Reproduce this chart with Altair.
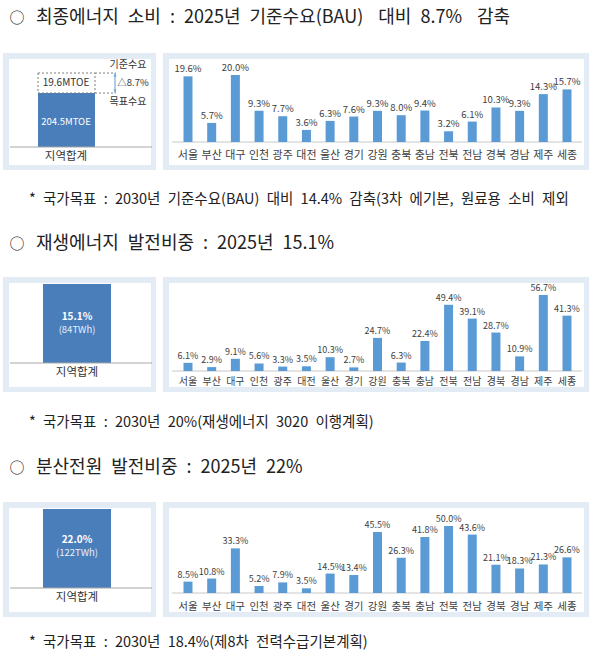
import altair as alt
import pandas as pd

FONT = "Noto Sans CJK KR"
BLUE = "#5b9bd5"
DARK_BLUE = "#4a7ebb"
FRAME = "#e3ebf5"
TXT = "#404040"

regions = ["서울", "부산", "대구", "인천", "광주", "대전", "울산", "경기", "강원",
           "충북", "충남", "전북", "전남", "경북", "경남", "제주", "세종"]
energy_cut = [19.6, 5.7, 20.0, 9.3, 7.7, 3.6, 6.3, 7.6, 9.3, 8.0, 9.4, 3.2, 6.1, 10.3, 9.3, 14.3, 15.7]
renew_share = [6.1, 2.9, 9.1, 5.6, 3.3, 3.5, 10.3, 2.7, 24.7, 6.3, 22.4, 49.4, 39.1, 28.7, 10.9, 56.7, 41.3]
dist_share = [8.5, 10.8, 33.3, 5.2, 7.9, 3.5, 14.5, 13.4, 45.5, 26.3, 41.8, 50.0, 43.6, 21.1, 18.3, 21.3, 26.6]

SP = "\u2002"
WSP = "\u2002\u2004"
headers = ["최종에너지" + SP + "소비" + SP + ":" + SP + "2025년" + SP + "기준수요(BAU)" + WSP
           + "대비" + SP + "8.7%" + WSP + "감축",
           SP.join(["재생에너지", "발전비중", ":", "2025년", "15.1%"]),
           SP.join(["분산전원", "발전비중", ":", "2025년", "22%"])]
notes = [SP.join(["*", "국가목표", ":", "2030년", "기준수요(BAU)", "대비", "14.4%", "감축(3차", "에기본,", "원료용", "소비", "제외"]),
         SP.join(["*", "국가목표", ":", "2030년", "20%(재생에너지", "3020", "이행계획)"]),
         SP.join(["*", "국가목표", ":", "2030년", "18.4%(제8차", "전력수급기본계획)"])]

total_label = "지역합계"
target_mtoe = 204.5
cut_mtoe = 19.6
bau_mtoe = round(target_mtoe + cut_mtoe, 1)
renew_total = ["15.1%", "(84TWh)"]
dist_total = ["22.0%", "(122TWh)"]
renew_total_val = 15.1
dist_total_val = 22.0

one = pd.DataFrame({"a": [0]})


def box(x0, x1, y0, y1, color, **kw):
    return alt.Chart(one).mark_rect(color=color, **kw).encode(
        x=alt.value(x0), x2=alt.value(x1), y=alt.value(y0), y2=alt.value(y1))


def hline(x0, x1, y, color="#bfbfbf", **kw):
    return alt.Chart(one).mark_rule(color=color, **kw).encode(
        x=alt.value(x0), x2=alt.value(x1), y=alt.value(y))


def label(txt, x, y, size, color=TXT, align="left", weight="normal"):
    return alt.Chart(pd.DataFrame({"t": [txt]})).mark_text(
        font=FONT, fontSize=size, color=color, align=align, baseline="middle",
        fontWeight=weight).encode(x=alt.value(x), y=alt.value(y), text="t:N")


def frame(x0, x1, y0, y1):
    return [box(x0, x1, y0, y1, FRAME), box(x0 + 6, x1 - 5, y0 + 6, y1 - 5, "white")]


def bar_panel(values, y_base, y_top, vmax, lab_size, reg_y, reg_size):
    df = pd.DataFrame({"region": regions, "value": values})
    xs = alt.X("region:N", sort=regions, axis=None,
               scale=alt.Scale(domain=regions, range=[176.15, 578.85],
                               paddingInner=0.62, paddingOuter=0.31))
    ys = alt.Y("value:Q", axis=None,
               scale=alt.Scale(domain=[0, vmax], range=[y_base, y_top]))
    base = alt.Chart(df)
    bars = base.mark_bar(color=BLUE).encode(x=xs, y=ys)
    vals = base.transform_calculate(
        lab="format(datum.value, '.1f') + '%'"
    ).mark_text(font=FONT, fontSize=lab_size, color=TXT, baseline="bottom", dy=-2
                ).encode(x=xs, y=ys, text="lab:N")
    regs = base.mark_text(font=FONT, fontSize=reg_size, color=TXT, baseline="middle").encode(
        x=xs, y=alt.value(reg_y), text="region:N")
    axis_line = hline(172, 582, y_base, color="#c8c8c8")
    return [axis_line, bars, vals, regs]


def total_bar(value, y_base, y_top, texts, y_txt):
    df = pd.DataFrame({"cat": [total_label], "value": [value]})
    xs = alt.X("cat:N", axis=None,
               scale=alt.Scale(domain=[total_label], range=[43, 111], paddingInner=0, paddingOuter=0))
    ys = alt.Y("value:Q", axis=None, scale=alt.Scale(domain=[0, value], range=[y_base, y_top]))
    bar = alt.Chart(df).mark_bar(color=DARK_BLUE).encode(x=xs, y=ys)
    return [bar,
            hline(10, 152, y_base, color="#a6a6a6"),
            label(texts[0], 77, y_txt, 10, color="white", align="center", weight="bold"),
            label(texts[1], 77, y_txt + 13, 9.5, color="#e8eef8", align="center"),
            label(total_label, 77, y_base + 10, 11.5, color="#333", align="center")]


layers = []

# ---------- headers & notes ----------
for hy, txt in zip([18, 244, 468], headers):
    layers.append(label("○", 17, hy, 15, color="#222", align="center"))
    layers.append(label(txt, 36, hy, 18, color="#222"))
for ny, txt in zip([200, 423, 643], notes):
    layers.append(label(txt, 29, ny, 14.5, color="#222"))

# ---------- section 1 ----------
layers += frame(3, 156, 53, 170)
layers += frame(163, 589, 53, 170)
df1 = pd.DataFrame({"cat": [total_label], "target": [target_mtoe], "bau": [bau_mtoe], "zero": [0.0]})
x1 = alt.X("cat:N", axis=None,
           scale=alt.Scale(domain=[total_label], range=[38, 95], paddingInner=0, paddingOuter=0))
y1s = alt.Scale(domain=[0, target_mtoe, bau_mtoe], range=[147, 93, 73])
layers.append(alt.Chart(df1).mark_bar(color=DARK_BLUE).encode(
    x=x1, y=alt.Y("target:Q", axis=None, scale=y1s), y2="zero:Q"))
layers.append(alt.Chart(df1).mark_bar(fill="white", stroke="#7f7f7f", strokeDash=[2, 2],
                                       strokeWidth=1).encode(
    x=x1, y=alt.Y("target:Q", axis=None, scale=y1s), y2="bau:Q"))
for fld in ["bau", "target"]:
    layers.append(alt.Chart(df1).mark_rule(color="#7f7f7f", strokeDash=[2, 2]).encode(
        x=alt.value(95), x2=alt.value(116), y=alt.Y(f"{fld}:Q", axis=None, scale=y1s)))
layers.append(alt.Chart(df1).mark_rule(color=BLUE, strokeWidth=1).encode(
    x=alt.value(115), y=alt.Y("bau:Q", axis=None, scale=y1s), y2="target:Q"))
layers.append(alt.Chart(df1).mark_point(shape="triangle-up", filled=True, color=BLUE, size=12).encode(
    x=alt.value(115), y=alt.Y("bau:Q", axis=None, scale=y1s), yOffset=alt.value(2)))
layers.append(alt.Chart(df1).mark_point(shape="triangle-down", filled=True, color=BLUE, size=12).encode(
    x=alt.value(115), y=alt.Y("target:Q", axis=None, scale=y1s), yOffset=alt.value(-2)))
layers.append(label(f"{cut_mtoe}MTOE", 66, 83, 10, color="#333", align="center"))
layers.append(label(f"{target_mtoe}MTOE", 66, 122, 9.5, color="white", align="center"))
layers.append(label("기준수요", 128, 65, 10, color="#333", align="center"))
layers.append(label("△8.7%", 133, 83, 9.5, color="#333", align="center"))
layers.append(label("목표수요", 128, 102, 10, color="#333", align="center"))
layers.append(hline(10, 152, 147, color="#a6a6a6"))
layers.append(label(total_label, 66, 157, 11.5, color="#333", align="center"))
layers += bar_panel(energy_cut, 142, 75, 20.0, 9.5, 156, 11)

# ---------- section 2 ----------
layers += frame(3, 156, 277, 392)
layers += frame(163, 589, 277, 392)
layers += total_bar(renew_total_val, 363, 284, renew_total, 317)
layers += bar_panel(renew_share, 371, 295, 56.7, 9, 382, 10)

# ---------- section 3 ----------
layers += frame(3, 156, 502, 617)
layers += frame(163, 589, 502, 617)
layers += total_bar(dist_total_val, 588, 509, dist_total, 540)
layers += bar_panel(dist_share, 593, 526, 50.0, 9, 607, 10.5)

chart = alt.layer(*layers).resolve_scale(x="independent", y="independent").properties(
    width=600, height=660, autosize=alt.AutoSizeParams(type="none"), padding=0,
    background="white"
).configure_view(stroke=None)

chart.save("out.html", embed_options={"renderer": "svg", "actions": False})
